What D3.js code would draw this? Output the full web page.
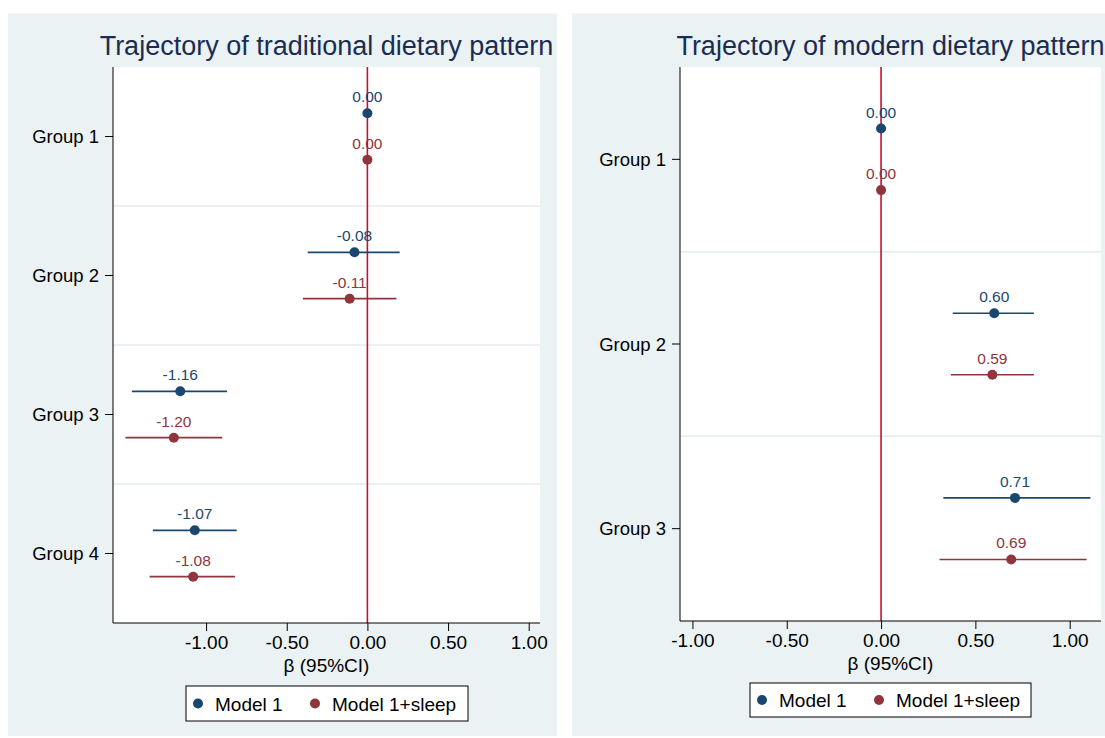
<!DOCTYPE html>
<html>
<head>
<meta charset="utf-8">
<script src="https://cdn.jsdelivr.net/npm/d3@7"></script>
<style>
	body { margin: 0; background: #fff; }
	svg text { font-family: "Liberation Sans", Arial, sans-serif; }
</style>
</head>
<body>
<div id="chart"></div>
<script>
// values
var tradGroups = ["Group 1", "Group 2", "Group 3", "Group 4"];
var tradM1 = [0.00, -0.08, -1.16, -1.07];
var tradM1Lo = [0.00, -0.37, -1.46, -1.33];
var tradM1Hi = [0.00, 0.20, -0.87, -0.81];
var tradM2 = [0.00, -0.11, -1.20, -1.08];
var tradM2Lo = [0.00, -0.40, -1.50, -1.35];
var tradM2Hi = [0.00, 0.18, -0.90, -0.82];

var modGroups = ["Group 1", "Group 2", "Group 3"];
var modM1 = [0.00, 0.60, 0.71];
var modM1Lo = [0.00, 0.38, 0.33];
var modM1Hi = [0.00, 0.81, 1.11];
var modM2 = [0.00, 0.59, 0.69];
var modM2Lo = [0.00, 0.37, 0.31];
var modM2Hi = [0.00, 0.81, 1.09];

var xTicks = [-1, -0.5, 0, 0.5, 1];
var seriesNames = ["Model 1", "Model 1+sleep"];

const
	W = 1105, H = 738,
	BG = "#eaf2f3", NAVY = "#1a476f", MAROON = "#90353b",
	REF = "#c8102e", TITLE = "#1b2c52",
	colors = [NAVY, MAROON];

// plain hyphen minus, like the original
var fmt = function(d){ return (+d).toFixed(2); };

var svg = d3.select("#chart").append("svg")
	.attr("width", W)
	.attr("height", H);

function makeRows(groups, est, lo, hi){
	return groups.map(function(g, i){
		return { group: g, est: est[i], lo: lo[i], hi: hi[i] };
	});
}

function drawPanel(p){
	svg.append("rect")
		.attr("x", p.bg[0]).attr("y", p.bg[1])
		.attr("width", p.bg[2] - p.bg[0]).attr("height", p.bg[3] - p.bg[1])
		.attr("fill", BG);

	var L = p.plot[0], T = p.plot[1], R = p.plot[2], B = p.plot[3];
	var x = d3.scaleLinear().domain(p.xDomain).range([L, R]);
	var y = d3.scaleBand().domain(p.groups).range([T, B]).padding(0);
	var off = y.bandwidth() / 6;

	svg.append("rect")
		.attr("x", L).attr("y", T)
		.attr("width", R - L).attr("height", B - T)
		.attr("fill", "#fff");

	// band separators
	svg.append("g").selectAll("line")
		.data(p.groups.slice(1))
		.enter().append("line")
		.attr("x1", L).attr("x2", R)
		.attr("y1", function(d){ return y(d); })
		.attr("y2", function(d){ return y(d); })
		.attr("stroke", "#e3ecef")
		.attr("stroke-width", 1.5);

	svg.append("text")
		.attr("x", (L + R) / 2)
		.attr("y", T - 12)
		.attr("text-anchor", "middle")
		.attr("font-size", 27)
		.attr("fill", TITLE)
		.text(p.title);

	// zero reference line
	svg.append("line")
		.attr("x1", x(0)).attr("x2", x(0))
		.attr("y1", T).attr("y2", B)
		.attr("stroke", REF)
		.attr("stroke-width", 1.6);

	p.series.forEach(function(rows, si){
		var g = svg.append("g");
		var dy = si == 0 ? -off : off;
		var yc = function(d){ return y(d.group) + y.bandwidth() / 2 + dy; };
		g.selectAll("line")
			.data(rows.filter(function(d){ return d.hi > d.lo; }))
			.enter().append("line")
			.attr("x1", function(d){ return x(d.lo); })
			.attr("x2", function(d){ return x(d.hi); })
			.attr("y1", yc).attr("y2", yc)
			.attr("stroke", colors[si])
			.attr("stroke-width", 1.6);
		g.selectAll("circle")
			.data(rows)
			.enter().append("circle")
			.attr("cx", function(d){ return x(d.est); })
			.attr("cy", yc)
			.attr("r", 5)
			.attr("fill", colors[si]);
		g.selectAll("text")
			.data(rows)
			.enter().append("text")
			.attr("x", function(d){ return x(d.est); })
			.attr("y", function(d){ return yc(d) - 11; })
			.attr("text-anchor", "middle")
			.attr("font-size", 15.5)
			.attr("fill", colors[si])
			.text(function(d){ return fmt(d.est); });
	});

	var yAxis = svg.append("g")
		.attr("transform", "translate(" + L + ",0)")
		.call(d3.axisLeft(y).tickSize(8).tickPadding(6));
	yAxis.selectAll("text").attr("font-size", 18.5).attr("fill", "#000")
		.attr("dy", "0.36em")
		.style("font-family", "Liberation Sans, Arial, sans-serif");

	var xAxis = svg.append("g")
		.attr("transform", "translate(0," + B + ")")
		.call(d3.axisBottom(x).tickValues(xTicks).tickFormat(fmt).tickSize(8).tickPadding(5));
	xAxis.selectAll("text").attr("font-size", 19).attr("fill", "#000")
		.style("font-family", "Liberation Sans, Arial, sans-serif");
	xAxis.select(".domain").attr("d", "M" + L + ",0H" + R);
	yAxis.select(".domain").attr("d", "M0," + T + "V" + B);
	svg.selectAll(".domain").attr("stroke", "#000");

	svg.append("text")
		.attr("x", (L + R) / 2)
		.attr("y", B + 49)
		.attr("text-anchor", "middle")
		.attr("font-size", 19)
		.attr("fill", "#000")
		.text("\u03b2 (95%CI)");

	// legend
	var lg = p.legend;
	svg.append("rect")
		.attr("x", lg[0]).attr("y", lg[1])
		.attr("width", lg[2] - lg[0]).attr("height", lg[3] - lg[1])
		.attr("fill", "#fff")
		.attr("stroke", "#000")
		.attr("stroke-width", 1);
	var my = (lg[1] + lg[3]) / 2;
	seriesNames.forEach(function(n, i){
		var mx = lg[0] + 12 + i * 117;
		svg.append("circle")
			.attr("cx", mx).attr("cy", my).attr("r", 5)
			.attr("fill", colors[i]);
		svg.append("text")
			.attr("x", mx + 17).attr("y", my + 7)
			.attr("font-size", 19)
			.attr("fill", "#000")
			.text(n);
	});
}

drawPanel({
	title: "Trajectory of traditional dietary pattern",
	groups: tradGroups,
	series: [makeRows(tradGroups, tradM1, tradM1Lo, tradM1Hi), makeRows(tradGroups, tradM2, tradM2Lo, tradM2Hi)],
	xDomain: [-1.577, 1.07],
	bg: [8, 13.5, 557, 736],
	plot: [113, 67, 540, 623],
	legend: [186, 686, 468, 721]
});

drawPanel({
	title: "Trajectory of modern dietary pattern",
	groups: modGroups,
	series: [makeRows(modGroups, modM1, modM1Lo, modM1Hi), makeRows(modGroups, modM2, modM2Lo, modM2Hi)],
	xDomain: [-1.066, 1.166],
	bg: [572, 13.5, 1105, 736],
	plot: [680, 67, 1101, 621],
	legend: [750, 683, 1031, 717]
});
</script>
</body>
</html>
